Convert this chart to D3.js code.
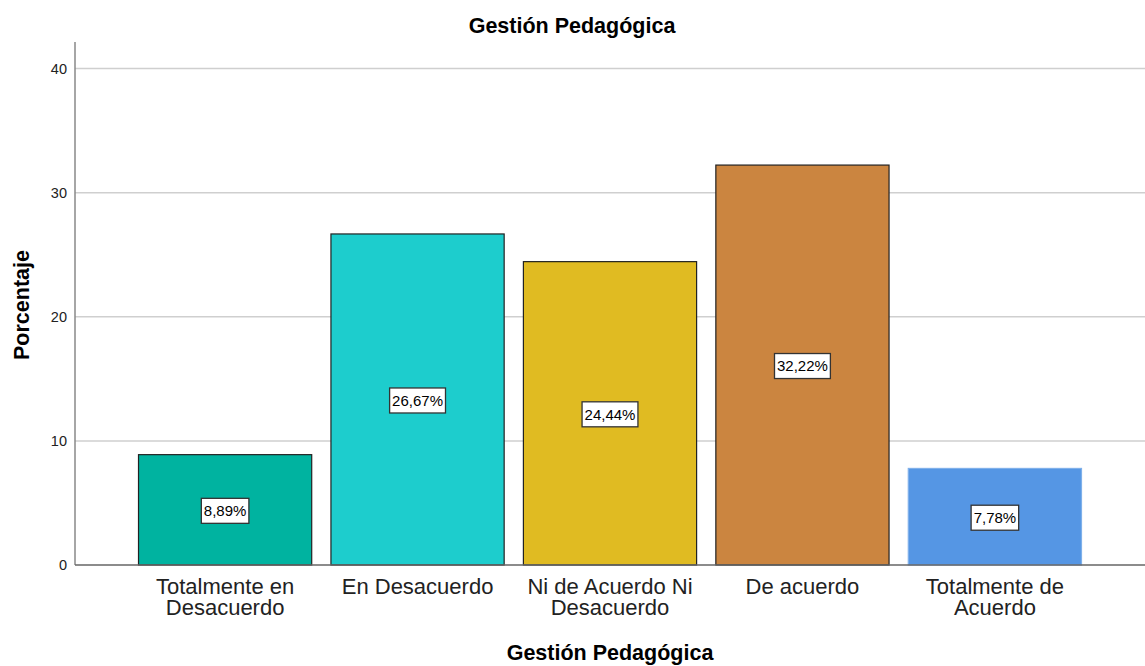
<!DOCTYPE html>
<html>
<head>
<meta charset="utf-8">
<script src="https://cdn.jsdelivr.net/npm/d3@7"></script>
<style>
  body { margin: 0; background: #fff; }
  text { font-family: "Liberation Sans", Arial, sans-serif; fill: #000; }
</style>
</head>
<body>
<div class="chart"></div>
<script>
// chart data
var categories = ["Totalmente en\nDesacuerdo", "En Desacuerdo", "Ni de Acuerdo Ni\nDesacuerdo", "De acuerdo", "Totalmente de\nAcuerdo"]
var values = [8.89, 26.67, 24.44, 32.22, 7.78]
var valueLabels = ["8,89%", "26,67%", "24,44%", "32,22%", "7,78%"]
var barColors = ["#00B3A0", "#1DCDCD", "#E0BB22", "#CB8540", "#5596E4"]
var yTicks = [0, 10, 20, 30, 40]

var width = 1145,
    height = 666

var plotLeft = 75, plotRight = 1145, plotTop = 42, plotBottom = 565

var svg = d3.select(".chart")
  .append("svg")
    .attr("width", width)
    .attr("height", height)

var x = d3.scaleBand()
  .domain(categories)
  .range([plotLeft, plotRight])
  .paddingInner(0.1)
  .paddingOuter(0.33)

var y = d3.scaleLinear()
  .domain([0, 40])
  .range([plotBottom, 68.5])

// gridlines
svg.append("g")
  .selectAll("line")
  .data(yTicks.slice(1))
  .enter()
  .append("line")
    .attr("x1", plotLeft)
    .attr("x2", plotRight)
    .attr("y1", function(d) { return y(d) })
    .attr("y2", function(d) { return y(d) })
    .attr("stroke", "#cfcfcf")
    .attr("stroke-width", 1.5)

// bars
svg.append("g")
  .selectAll("rect")
  .data(values)
  .enter()
  .append("rect")
    .attr("x", function(d, i) { return x(categories[i]) })
    .attr("y", function(d) { return y(d) })
    .attr("width", x.bandwidth())
    .attr("height", function(d) { return plotBottom - y(d) })
    .attr("fill", function(d, i) { return barColors[i] })
    .attr("stroke", function(d, i) { return i == 4 ? "#7fb0ea" : "#222" })
    .attr("stroke-width", 1.2)

// y axis
var yAxis = svg.append("g")
  .attr("transform", "translate(" + plotLeft + ",0)")
  .call(d3.axisLeft(y).tickValues(yTicks).tickSize(0).tickPadding(8))
yAxis.select(".domain").remove()
yAxis.selectAll("text")
  .style("font-size", "14.5px")
  .style("fill", "#222")
  .style("font-family", "Liberation Sans, Arial, sans-serif")

svg.append("line")
  .attr("x1", plotLeft).attr("x2", plotLeft)
  .attr("y1", plotTop).attr("y2", plotBottom)
  .attr("stroke", "#888")
  .attr("stroke-width", 1.5)

svg.append("line")
  .attr("x1", plotLeft).attr("x2", plotRight)
  .attr("y1", plotBottom).attr("y2", plotBottom)
  .attr("stroke", "#666")
  .attr("stroke-width", 1.5)

// x tick labels (two lines)
var xl = svg.append("g")
  .selectAll("text")
  .data(categories)
  .enter()
  .append("text")
    .attr("text-anchor", "middle")
    .style("font-size", "22px")
    .style("fill", "#222")
    .attr("transform", function(d) { return "translate(" + (x(d) + x.bandwidth() / 2) + ",594)" })
xl.each(function(d) {
  var lines = d.split("\n")
  var t = d3.select(this)
  lines.forEach(function(l, i) {
    t.append("tspan").attr("x", 0).attr("dy", i == 0 ? 0 : 21).text(l)
  })
})

// value labels
var lbl = svg.append("g")
  .selectAll("g")
  .data(values)
  .enter()
  .append("g")
    .attr("transform", function(d, i) {
      return "translate(" + (x(categories[i]) + x.bandwidth() / 2) + "," + (y(d / 2) + 1) + ")"
    })
lbl.append("text")
  .attr("text-anchor", "middle")
  .attr("dy", "0.36em")
  .style("font-size", "15px")
  .text(function(d, i) { return valueLabels[i] })
lbl.each(function() {
  var g = d3.select(this)
  var bb = g.select("text").node().getBBox()
  g.insert("rect", "text")
    .attr("x", bb.x - 2.5)
    .attr("y", -12.5)
    .attr("width", bb.width + 5)
    .attr("height", 25)
    .attr("fill", "#fff")
    .attr("stroke", "#333")
    .attr("stroke-width", 1.3)
})

// titles
svg.append("text")
  .attr("x", 572).attr("y", 33)
  .attr("text-anchor", "middle")
  .style("font-size", "21.5px")
  .style("font-weight", "bold")
  .text("Gestión Pedagógica")

svg.append("text")
  .attr("x", 610).attr("y", 660)
  .attr("text-anchor", "middle")
  .style("font-size", "21.5px")
  .style("font-weight", "bold")
  .text("Gestión Pedagógica")

svg.append("text")
  .attr("transform", "translate(29,305) rotate(-90)")
  .attr("text-anchor", "middle")
  .style("font-size", "21.5px")
  .style("font-weight", "bold")
  .text("Porcentaje")
</script>
</body>
</html>
